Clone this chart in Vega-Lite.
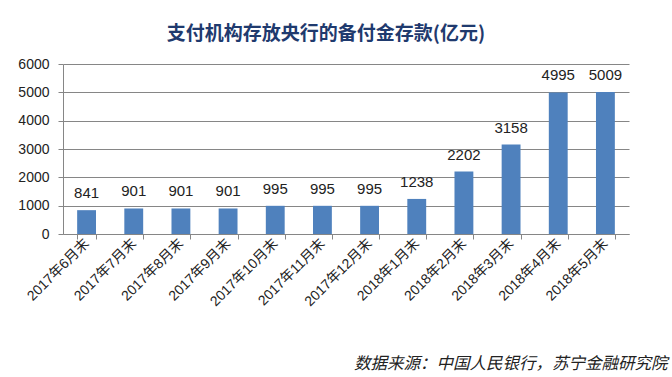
{
  "$schema": "https://vega.github.io/schema/vega-lite/v6.json",
  "width": 566,
  "height": 170,
  "autosize": {"type": "none"},
  "padding": {"left": 63, "top": 64, "right": 43, "bottom": 143},
  "background": "white",
  "title": {
    "text": "支付机构存放央行的备付金存款(亿元)",
    "font": "Noto Sans CJK SC",
    "fontSize": 19,
    "fontWeight": "bold",
    "color": "#1F3A6E",
    "anchor": "middle",
    "dx": -20,
    "offset": 13
  },
  "data": {
    "values": [
      {"month": "2017年6月末", "value": 841},
      {"month": "2017年7月末", "value": 901},
      {"month": "2017年8月末", "value": 901},
      {"month": "2017年9月末", "value": 901},
      {"month": "2017年10月末", "value": 995},
      {"month": "2017年11月末", "value": 995},
      {"month": "2017年12月末", "value": 995},
      {"month": "2018年1月末", "value": 1238},
      {"month": "2018年2月末", "value": 2202},
      {"month": "2018年3月末", "value": 3158},
      {"month": "2018年4月末", "value": 4995},
      {"month": "2018年5月末", "value": 5009}
    ]
  },
  "encoding": {
    "x": {
      "field": "month",
      "type": "nominal",
      "sort": null,
      "scale": {"paddingInner": 0.6, "paddingOuter": 0.3},
      "axis": {
        "title": "数据来源：中国人民银行，苏宁金融研究院",
        "titleFont": "Noto Sans CJK SC",
        "titleFontSize": 16.5,
        "titleFontStyle": "italic",
        "titleFontWeight": "normal",
        "titleColor": "#222222",
        "titleAnchor": "end",
        "titleAlign": "right",
        "titleX": 604,
        "titleY": 134,
        "titleBaseline": "alphabetic",
        "labelAngle": -45,
        "labelAlign": "right",
        "labelBaseline": "middle",
        "labelFont": "Liberation Sans, Noto Sans CJK SC",
        "labelFontSize": 14,
        "labelColor": "#222222",
        "labelPadding": 2,
        "labelOverlap": false,
        "domainColor": "#868686",
        "tickColor": "#868686",
        "tickBand": "extent",
        "tickSize": 5
      }
    },
    "y": {
      "field": "value",
      "type": "quantitative",
      "scale": {"domain": [0, 6000]},
      "axis": {
        "title": null,
        "format": "d",
        "values": [0, 1000, 2000, 3000, 4000, 5000, 6000],
        "labelFont": "Liberation Sans",
        "labelFontSize": 14,
        "labelColor": "#222222",
        "labelPadding": 9,
        "domainColor": "#868686",
        "tickColor": "#868686",
        "tickSize": 5,
        "gridColor": "#868686",
        "gridOpacity": 1
      }
    }
  },
  "layer": [
    {"mark": {"type": "bar", "color": "#4F81BD"}},
    {
      "mark": {
        "type": "text",
        "baseline": "middle",
        "dy": -17,
        "font": "Liberation Sans",
        "fontSize": 15,
        "color": "#222222"
      },
      "encoding": {"text": {"field": "value", "type": "quantitative"}}
    }
  ],
  "config": {"view": {"stroke": null}}
}
